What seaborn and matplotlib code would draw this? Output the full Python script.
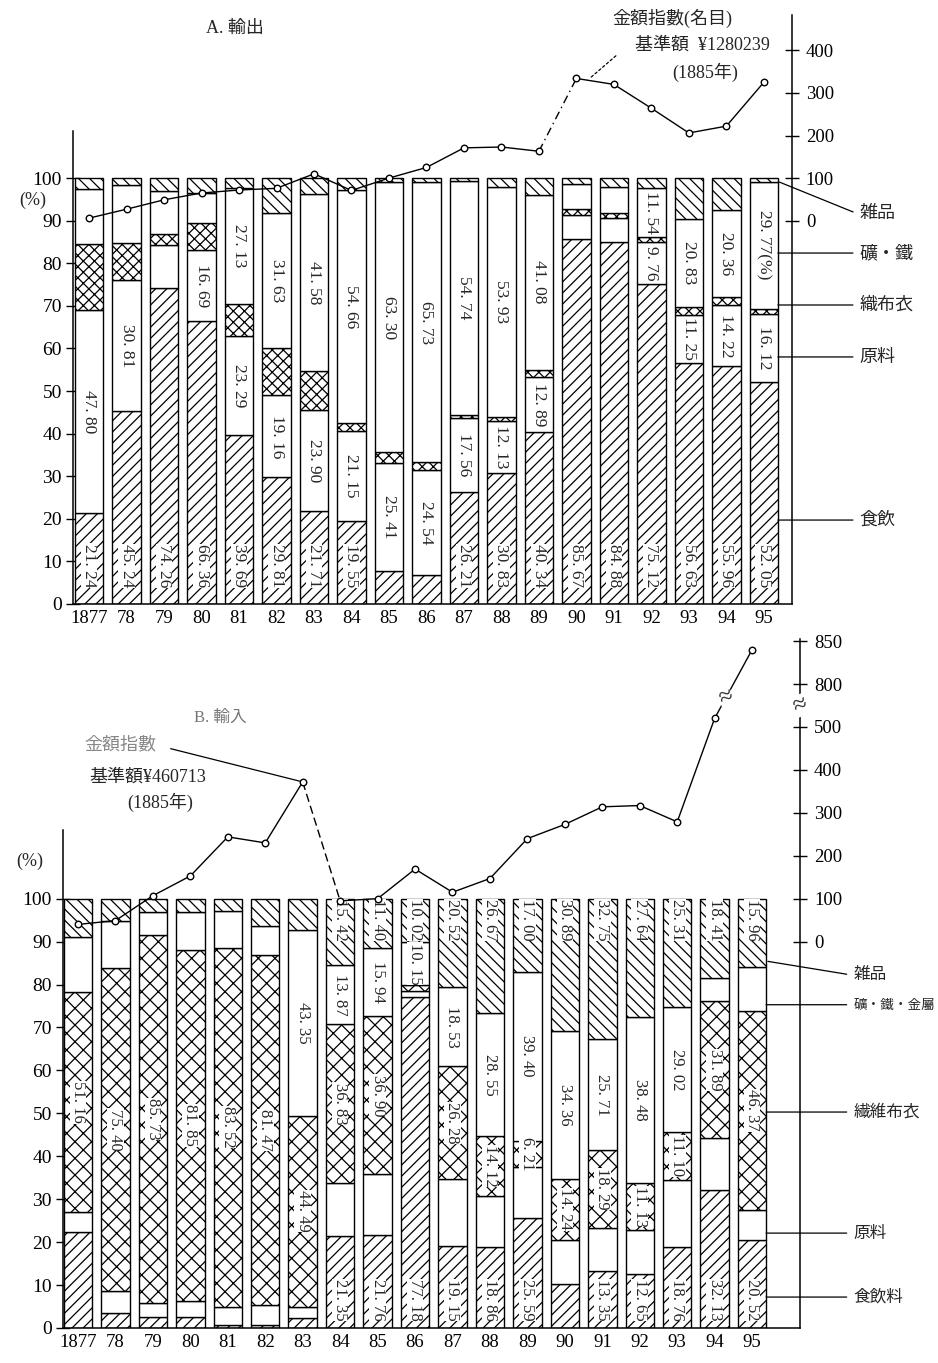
import numpy as np
import matplotlib
matplotlib.use("Agg")
import matplotlib.pyplot as plt
import seaborn as sns

years = ["1877", "78", "79", "80", "81", "82", "83", "84", "85", "86",
         "87", "88", "89", "90", "91", "92", "93", "94", "95"]

# A. 輸出  構成比(%)  下から 食飲 / 原料 / 織布衣 / 礦・鐵 / 雑品
ex_food = [21.24, 45.24, 74.26, 66.36, 39.69, 29.81, 21.71, 19.55, 7.80, 6.80,
           26.21, 30.83, 40.34, 85.67, 84.88, 75.12, 56.63, 55.96, 52.05]
ex_raw = [47.80, 30.81, 10.10, 16.69, 23.29, 19.16, 23.90, 21.15, 25.41, 24.54,
          17.56, 12.13, 12.89, 5.60, 5.70, 9.76, 11.25, 14.22, 16.12]
ex_cloth = [15.50, 8.80, 2.40, 6.30, 7.50, 11.20, 9.00, 1.90, 2.50, 1.90,
            0.70, 1.00, 1.80, 1.50, 1.20, 1.30, 1.80, 2.00, 1.20]
ex_metal = [13.00, 13.50, 10.20, 7.20, 27.13, 31.63, 41.58, 54.66, 63.30, 65.73,
            54.74, 53.93, 41.08, 5.80, 6.20, 11.54, 20.83, 20.36, 29.77]
ex_misc = [2.46, 1.65, 3.04, 3.45, 2.39, 8.20, 3.81, 2.74, 0.99, 1.03,
           0.79, 2.11, 3.89, 1.43, 2.02, 2.28, 9.49, 7.46, 0.86]
# 金額指数(名目) 1885年=100
ex_index = [6, 27, 49, 65, 72, 76, 110, 71, 100, 125,
            171, 173, 163, 334, 320, 264, 206, 222, 325]
ex_names = ["食飲", "原料", "織布衣", "礦・鐵", "雑品"]

# which segments have the figure printed in them
ex_food_shown = [1, 1, 1, 1, 1, 1, 1, 1, 0, 0, 1, 1, 1, 1, 1, 1, 1, 1, 1]
ex_raw_shown = [1, 1, 0, 1, 1, 1, 1, 1, 1, 1, 1, 1, 1, 0, 0, 1, 1, 1, 1]
ex_metal_shown = [0, 0, 0, 0, 1, 1, 1, 1, 1, 1, 1, 1, 1, 0, 0, 1, 1, 1, 1]

# B. 輸入  下から 食飲料 / 原料 / 繊維布衣 / 礦・鐵・金屬 / 雑品
im_food = [22.40, 3.60, 2.50, 2.50, 0.80, 0.80, 2.36, 21.35, 21.76, 77.18,
           19.15, 18.86, 25.59, 10.30, 13.35, 12.65, 18.76, 32.13, 20.52]
im_raw = [4.60, 4.90, 3.30, 3.80, 4.20, 4.60, 2.60, 12.53, 14.00, 1.30,
          15.52, 11.80, 11.80, 10.21, 9.90, 10.10, 15.81, 12.07, 7.00]
im_cloth = [51.16, 75.40, 85.73, 81.85, 83.52, 81.47, 44.49, 36.83, 36.90, 1.35,
            26.28, 14.12, 6.21, 14.24, 18.29, 11.13, 11.10, 31.89, 46.37]
im_metal = [12.90, 10.90, 5.30, 8.70, 8.60, 6.70, 43.35, 13.87, 15.94, 10.15,
            18.53, 28.55, 39.40, 34.36, 25.71, 38.48, 29.02, 5.50, 10.15]
im_misc = [8.94, 5.20, 3.17, 3.15, 2.88, 6.43, 7.20, 15.42, 11.40, 10.02,
           20.52, 26.67, 17.00, 30.89, 32.75, 27.64, 25.31, 18.41, 15.96]
im_index = [40, 49, 107, 153, 244, 230, 372, 95, 100, 169,
            115, 147, 240, 273, 314, 317, 279, 560, 840]
im_names = ["食飲料", "原料", "繊維布衣", "礦・鐵・金屬", "雑品"]

im_food_shown = [0, 0, 0, 0, 0, 0, 0, 1, 1, 1, 1, 1, 1, 0, 1, 1, 1, 1, 1]
im_cloth_shown = [1, 1, 1, 1, 1, 1, 1, 1, 1, 0, 1, 1, 1, 1, 1, 1, 1, 1, 1]
im_metal_shown = [0, 0, 0, 0, 0, 0, 1, 1, 1, 1, 1, 1, 1, 1, 1, 1, 1, 0, 0]
im_misc_shown = [0, 0, 0, 0, 0, 0, 0, 1, 1, 1, 1, 1, 1, 1, 1, 1, 1, 1, 1]

sns.set_theme(style="white")
plt.rcParams["font.family"] = ["Liberation Serif", "Noto Sans CJK JP"]
plt.rcParams["axes.edgecolor"] = "black"
plt.rcParams["xtick.color"] = "black"
plt.rcParams["ytick.color"] = "black"
plt.rcParams["hatch.linewidth"] = 0.9
plt.rcParams["hatch.color"] = "black"


def fmt(v):
    # printed like "47. 80"
    return f"{v:.2f}".replace(".", ". ")


def stacked(ax, layers, hatches, shown, label_at, fs, last_suffix=None):
    x = np.arange(len(years))
    base = np.zeros(len(years))
    for k, (vals, hatch, mask, where) in enumerate(zip(layers, hatches, shown, label_at)):
        vals = np.asarray(vals, dtype=float)
        ax.bar(x, vals, 0.76, bottom=base, color="white", edgecolor="black",
               hatch=hatch, linewidth=1.0, zorder=2)
        if mask is not None:
            for i in range(len(x)):
                if not mask[i]:
                    continue
                if where[0] == "low":
                    y = where[1]
                elif where[0] == "top":
                    y = base[i] + vals[i] - where[1]
                else:
                    y = base[i] + vals[i] / 2
                txt = fmt(vals[i])
                if last_suffix and k == last_suffix[0] and i == len(x) - 1:
                    txt += last_suffix[1]
                ax.text(x[i], y, txt, rotation=270, ha="center", va="center",
                        fontsize=fs, zorder=4,
                        bbox=dict(fc="white", ec="none", pad=0.3))
        base += vals


def style_axes(ax, ax2, top_bound):
    for s in ["top", "right"]:
        ax.spines[s].set_visible(False)
    for s in ["top", "left", "bottom"]:
        ax2.spines[s].set_visible(False)
    ax.spines["left"].set_bounds(0, top_bound)
    ax.spines["left"].set_linewidth(1.1)
    ax.spines["bottom"].set_linewidth(1.1)
    ax2.spines["right"].set_linewidth(1.1)
    ax.set_yticks(range(0, 101, 10))
    ax.tick_params(axis="y", direction="inout", length=10, width=1, labelsize=14, pad=3)
    ax.set_xticks(np.arange(len(years)))
    ax.set_xticklabels(years)
    ax.tick_params(axis="x", length=0, labelsize=13.5, pad=4)
    ax2.tick_params(axis="y", direction="inout", length=10, width=1, labelsize=13.5, pad=5)
    ax.set_xlabel("")
    ax.set_ylabel("")
    ax2.set_ylabel("")


fig = plt.figure(figsize=(9.38, 13.63), dpi=100)

# ---------------- A. 輸出 ----------------
ax = fig.add_axes([0.0778, 0.5569, 0.7665, 0.4321])
stacked(ax, [ex_food, ex_raw, ex_cloth, ex_metal, ex_misc],
        ["///", "", "xxx", "", "\\\\\\"],
        [ex_food_shown, ex_raw_shown, None, ex_metal_shown, None],
        [("low", 9), ("mid", None), ("mid", None), ("mid", None), ("mid", None)],
        12.5, last_suffix=(3, "(%)"))
ax.set_xlim(-0.43, 18.75)
ax.set_ylim(0, 138.3)
ax2 = ax.twinx()
ax2.set_ylim((0 - 90) * 10, (138.3 - 90) * 10)
ax2.set_yticks([0, 100, 200, 300, 400])
style_axes(ax, ax2, 111)

x = np.arange(len(years))
sns.lineplot(x=x[:13], y=ex_index[:13], ax=ax2, color="black", lw=1.0)
sns.lineplot(x=x[13:], y=ex_index[13:], ax=ax2, color="black", lw=1.0)
ax2.plot(x[12:14], ex_index[12:14], color="black", lw=1.0, ls=(0, (6, 3, 1, 3)))
sns.scatterplot(x=x, y=ex_index, ax=ax2, s=22, color="white",
                edgecolor="black", linewidth=1.0, zorder=5)

ax.text(-1.5, 94.8, "(%)", ha="center", va="center", fontsize=13)

ex_label_y = [19.7, 58.0, 70.2, 82.4, 91.8]
for name, ly in zip(ex_names, ex_label_y):
    start = (18.35, 99.3) if name == "雑品" else (18.3, ly)
    ax.annotate("", xy=start, xytext=(20.45, ly), annotation_clip=False,
                arrowprops=dict(arrowstyle="-", lw=0.9, color="black"))
    ax.text(20.55, ly, name, ha="left", va="center", fontsize=13,
            family=["Noto Sans CJK JP"])

fig.text(235 / 938, 1 - 28 / 1363, "A. 輸出", ha="center", va="center", fontsize=13)
fig.text(672 / 938, 1 - 18 / 1363, "金額指數(名目)", ha="center", va="center", fontsize=13)
fig.text(702 / 938, 1 - 45 / 1363, "基準額  ¥1280239", ha="center", va="center", fontsize=13)
fig.text(705 / 938, 1 - 72 / 1363, "(1885年)", ha="center", va="center", fontsize=13)
ax2.annotate("", xy=(13.3, 330), xytext=(618 / 938, 1 - 54 / 1363),
             textcoords="figure fraction", annotation_clip=False,
             arrowprops=dict(arrowstyle="-", lw=0.9, color="black", ls=(0, (2, 2))))

# ---------------- B. 輸入 ----------------
def fwd(v):
    v = np.asarray(v, dtype=float)
    return np.where(v <= 500, v, np.where(v <= 800, 500 + (v - 500) / 3.0, 600 + (v - 800) * 2.0))


def inv(d):
    d = np.asarray(d, dtype=float)
    return np.where(d <= 500, d, np.where(d <= 600, 500 + (d - 500) * 3.0, 800 + (d - 600) / 2.0))


bx = fig.add_axes([0.0672, 0.0257, 0.7857, 0.5055])
stacked(bx, [im_food, im_raw, im_cloth, im_metal, im_misc],
        ["///", "", "xx", "", "\\\\\\"],
        [im_food_shown, None, im_cloth_shown, im_metal_shown, im_misc_shown],
        [("low", 6.5), ("mid", None), ("mid", None), ("mid", None), ("top", 4.9)],
        12)
bx.set_xlim(-0.4, 19.28)
bx.set_ylim(0, 160.5)
bx2 = bx.twinx()
bx2.set_yscale("function", functions=(fwd, inv))
bx2.set_ylim(-900, float(inv((160.5 - 90) * 10)))
bx2.set_yticks([0, 100, 200, 300, 400, 500, 800, 850])
bx2.set_yticklabels(["0", "100", "200", "300", "400", "500", "800", "850"])
style_axes(bx, bx2, 116)

sns.lineplot(x=x[:7], y=im_index[:7], ax=bx2, color="black", lw=1.0)
sns.lineplot(x=x[7:], y=im_index[7:], ax=bx2, color="black", lw=1.0)
bx2.plot(x[6:8], im_index[6:8], color="black", lw=1.0, ls=(0, (6, 3)))
sns.scatterplot(x=x, y=im_index, ax=bx2, s=22, color="white",
                edgecolor="black", linewidth=1.0, zorder=5)

# axis break marks
bx2.text(1.0, 650, "≈", transform=bx2.get_yaxis_transform(), ha="center",
         va="center", fontsize=18, rotation=20, zorder=6,
         bbox=dict(fc="white", ec="none", pad=0))
xb = 17.3
yb = float(inv(np.interp(xb, [17, 18], fwd([im_index[17], im_index[18]]))))
bx2.text(xb, yb, "≈", ha="center", va="center", fontsize=18, rotation=20, zorder=6,
         bbox=dict(fc="white", ec="none", pad=0))

bx.text(-1.28, 108.6, "(%)", ha="center", va="center", fontsize=13)

im_label_y = [7.2, 22.1, 50.3, 75.3, 82.3]
for name, ly in zip(im_names, im_label_y):
    start = (18.35, 85.5) if name == "雑品" else (18.3, ly)
    bx.annotate("", xy=start, xytext=(20.6, ly), annotation_clip=False,
                arrowprops=dict(arrowstyle="-", lw=0.9, color="black"))
    bx.text(20.7, ly, name, ha="left", va="center",
            fontsize=9.8 if len(name) > 4 else 12, family=["Noto Sans CJK JP"])

fig.text(220 / 938, 1 - 718 / 1363, "B. 輸入", ha="center", va="center",
         fontsize=12, color="#777777")
fig.text(120 / 938, 1 - 745 / 1363, "金額指數", ha="center", va="center",
         fontsize=13, color="#888888")
fig.text(148 / 938, 1 - 777 / 1363, "基準額¥460713", ha="center", va="center", fontsize=13)
fig.text(160 / 938, 1 - 802 / 1363, "(1885年)", ha="center", va="center", fontsize=13)
bx2.annotate("", xy=(6, 372), xytext=(168 / 938, 1 - 748 / 1363),
             textcoords="figure fraction", annotation_clip=False,
             arrowprops=dict(arrowstyle="-", lw=0.9, color="black"))

fig.savefig("out.png", dpi=100, facecolor="white")
